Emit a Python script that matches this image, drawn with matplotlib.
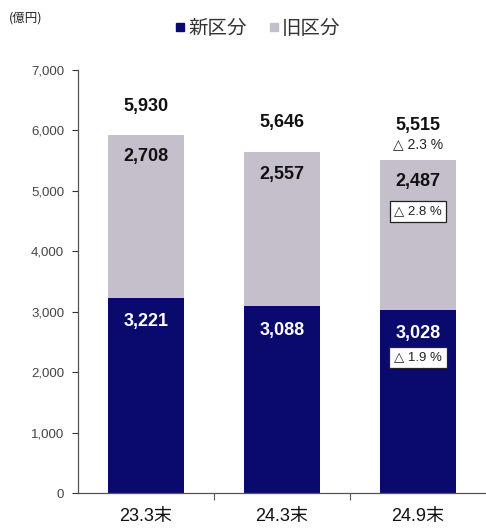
import matplotlib
matplotlib.use("Agg")
import matplotlib.pyplot as plt
from matplotlib.lines import Line2D
from matplotlib.ticker import FuncFormatter

plt.rcParams['font.family'] = ['Liberation Sans', 'Noto Sans CJK JP', 'DejaVu Sans']

categories = ["23.3末", "24.3末", "24.9末"]
new_part = [3221, 3088, 3028]
old_part = [2708, 2557, 2487]
totals = [5930, 5646, 5515]
yticks = [0, 1000, 2000, 3000, 4000, 5000, 6000, 7000]

NAVY = "#0a0a6e"
GRAY = "#c4bfcb"
PCT_FONT = ['Liberation Sans', 'DejaVu Sans']

fig = plt.figure(figsize=(4.86, 5.30), dpi=100)
ax = fig.add_axes([78/486, 37/530, 408/486, 423/530])

x = list(range(len(categories)))
w = 0.56
ax.bar(x, new_part, width=w, color=NAVY, zorder=2)
ax.bar(x, old_part, width=w, bottom=new_part, color=GRAY, zorder=2)

ax.set_xlim(-0.5, 2.5)
ax.set_ylim(0, 7000)
ax.set_yticks(yticks)
ax.yaxis.set_major_formatter(FuncFormatter(lambda v, p: f"{int(v):,}"))
ax.tick_params(axis='y', labelsize=9.5, colors="#333333", length=4, width=0.8,
               direction='out', labelcolor="#444444", pad=6)
ax.set_xticks([0.5, 1.5])
ax.set_xticklabels([])
ax.tick_params(axis='x', length=5, width=0.8, direction='out', colors="#555555")
for xi, c in zip(x, categories):
    ax.annotate(c, (xi, 0), xytext=(0, -11), textcoords='offset points',
                ha='center', va='top', fontsize=13, color="#111111",
                family=['Liberation Sans', 'Noto Sans CJK JP'])

for s in ['top', 'right']:
    ax.spines[s].set_visible(False)
for s in ['left', 'bottom']:
    ax.spines[s].set_color("#555555")
    ax.spines[s].set_linewidth(0.9)

# totals above the stacks
tot_off = [20, 21, 25]
for xi, t, o in zip(x, totals, tot_off):
    ax.annotate(f"{t:,}", (xi, t), xytext=(0, o), textcoords='offset points',
                ha='center', va='center', fontsize=13, fontweight='bold', color="#111111")
ax.annotate("△ 2.3 %", (2, totals[2]), xytext=(0, 11), textcoords='offset points',
            ha='center', va='center', fontsize=10, color="#222222", family=PCT_FONT)

# segment labels
for xi, n, o in zip(x, new_part, old_part):
    ax.annotate(f"{o:,}", (xi, n + o), xytext=(0, -16), textcoords='offset points',
                ha='center', va='center', fontsize=13, fontweight='bold', color="#111111")
    ax.annotate(f"{n:,}", (xi, n), xytext=(0, -17), textcoords='offset points',
                ha='center', va='center', fontsize=13, fontweight='bold', color="white")

box = dict(boxstyle='square,pad=0.35', fc='white', ec='#222222', lw=0.9)
ax.annotate("△ 2.8 %", (2, new_part[2] + old_part[2]), xytext=(0, -37),
            textcoords='offset points', ha='center', va='center', fontsize=9.5,
            color="#222222", bbox=box, family=PCT_FONT)
ax.annotate("△ 1.9 %", (2, new_part[2]), xytext=(0, -34), textcoords='offset points',
            ha='center', va='center', fontsize=9.5, color="#222222", bbox=box,
            family=PCT_FONT)

handles = [Line2D([], [], marker='s', ls='none', color=NAVY, markersize=6),
           Line2D([], [], marker='s', ls='none', color=GRAY, markersize=6)]
fig.legend(handles, ["新区分", "旧区分"], loc='center', ncol=2,
           bbox_to_anchor=(256/486, 1 - 28/530), frameon=False,
           prop={'family': 'Noto Sans CJK JP', 'size': 14},
           handletextpad=0.0, columnspacing=0.9, handlelength=0.9,
           labelcolor="#333333")

fig.text(9/486, 1 - 18/530, "(億円)", fontsize=9, color="#222222",
         family=['Noto Sans CJK JP'], va='center', ha='left')

fig.savefig("out.png", dpi=100)
